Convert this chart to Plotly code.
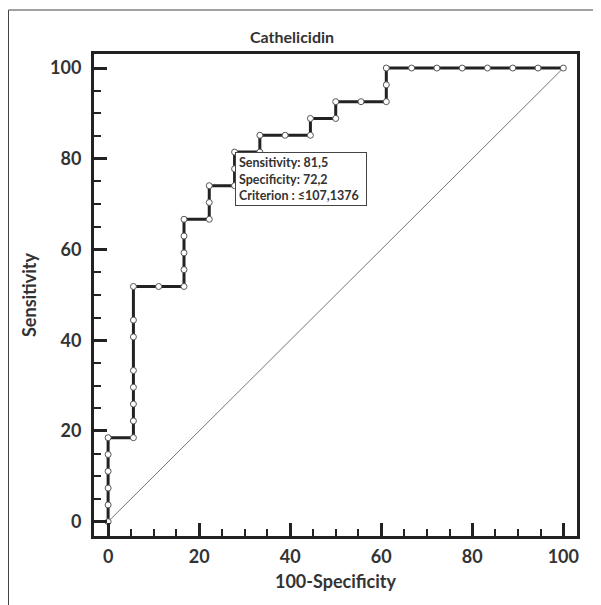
import plotly.graph_objects as go

# ROC curve points (100-Specificity, Sensitivity)
fpr = [0, 0, 0, 0, 0, 0,
       5.56, 5.56, 5.56, 5.56, 5.56, 5.56, 5.56, 5.56,
       11.11,
       16.67, 16.67, 16.67, 16.67, 16.67,
       22.22, 22.22, 22.22,
       27.78, 27.78, 27.78,
       33.33, 33.33,
       38.89,
       44.44, 44.44,
       50.0, 50.0,
       55.56,
       61.11, 61.11, 61.11,
       66.67, 72.22, 77.78, 83.33, 88.89, 94.44, 100.0]
tpr = [0, 3.70, 7.41, 11.11, 14.81, 18.52,
       18.52, 22.22, 25.93, 29.63, 33.33, 40.74, 44.44, 51.85,
       51.85,
       51.85, 55.56, 59.26, 62.96, 66.67,
       66.67, 70.37, 74.07,
       74.07, 77.78, 81.48,
       81.48, 85.19,
       85.19,
       85.19, 88.89,
       88.89, 92.59,
       92.59,
       92.59, 96.30, 100.0,
       100.0, 100.0, 100.0, 100.0, 100.0, 100.0, 100.0]

diag_x = [0, 100]
diag_y = [0, 100]

crit_x = 27.78
crit_y = 81.48
crit_lines = ["Sensitivity: 81,5", "Specificity: 72,2", "Criterion : \u2264107,1376"]

tick_vals = [0, 20, 40, 60, 80, 100]
title_text = "Cathelicidin"
x_title = "100-Specificity"
y_title = "Sensitivity"

FONT = "Lato"
TXT = "#333333"
AX = "#222222"

fig = go.Figure()
fig.add_trace(go.Scatter(x=diag_x, y=diag_y, mode="lines",
                         line=dict(color="#777777", width=1), hoverinfo="skip"))
fig.add_trace(go.Scatter(x=fpr, y=tpr, mode="lines+markers",
                         line=dict(color="#222222", width=3, shape="linear"),
                         marker=dict(symbol="circle", size=6, color="white",
                                     line=dict(color="#555555", width=1))))

W, H = 601, 605
OFF = 8  # page body margin
pw, ph = 483, 482
L, T = 94 - OFF, 54 - OFF
R = W - L - pw
B = H - T - ph

axis_common = dict(
    showgrid=False, zeroline=False, automargin=False,
    showline=True, linecolor=AX, linewidth=3, mirror=True,
    ticks="inside", ticklen=13, tickwidth=3, tickcolor=AX,
    tickvals=tick_vals,
    tickfont=dict(family=FONT, size=18, color=TXT, weight="bold"),
    minor=dict(dtick=5, ticks="inside", ticklen=7, tickwidth=2, tickcolor=AX),
)

fig.update_xaxes(range=[-3.1, 103], ticklabelstandoff=2,
                 title=dict(text="<b>" + x_title + "</b>", standoff=10,
                            font=dict(family=FONT, size=18, color=TXT)),
                 **axis_common)
fig.update_yaxes(range=[-3.15, 103.1], ticklabelstandoff=6,
                 title=dict(text="<b>" + y_title + "</b>", standoff=9,
                            font=dict(family=FONT, size=18, color=TXT)),
                 **axis_common)

fig.add_annotation(x=crit_x, y=crit_y, xref="x", yref="y",
                   xanchor="left", yanchor="top", showarrow=False,
                   text="<br>".join("<b>" + s + "</b>" for s in crit_lines),
                   align="left", font=dict(family=FONT, size=12.5, color=TXT),
                   bgcolor="white", bordercolor="#444444", borderwidth=1,
                   borderpad=3, width=124, height=46)

fig.add_annotation(x=(292 - OFF - L) / pw, y=1 + (T - (37 - OFF)) / ph,
                   xref="paper", yref="paper",
                   xanchor="center", yanchor="middle", showarrow=False,
                   text="<b>" + title_text + "</b>",
                   font=dict(family=FONT, size=16, color=TXT))

# outer frame (left and top edges)
fx = (8 - OFF + 0.5 - L) / pw
fy = 1 + (T - (10 - OFF)) / ph
fig.add_shape(type="line", xref="paper", yref="paper", x0=fx, y0=fy, x1=fx, y1=-0.3,
              line=dict(color="#444444", width=1))
fig.add_shape(type="line", xref="paper", yref="paper", x0=fx, y0=fy, x1=1.3, y1=fy,
              line=dict(color="#444444", width=1))

fig.update_layout(width=W, height=H, margin=dict(l=L, r=R, t=T, b=B, autoexpand=False),
                  paper_bgcolor="white", plot_bgcolor="white",
                  showlegend=False)

fig.write_html("out.html")
